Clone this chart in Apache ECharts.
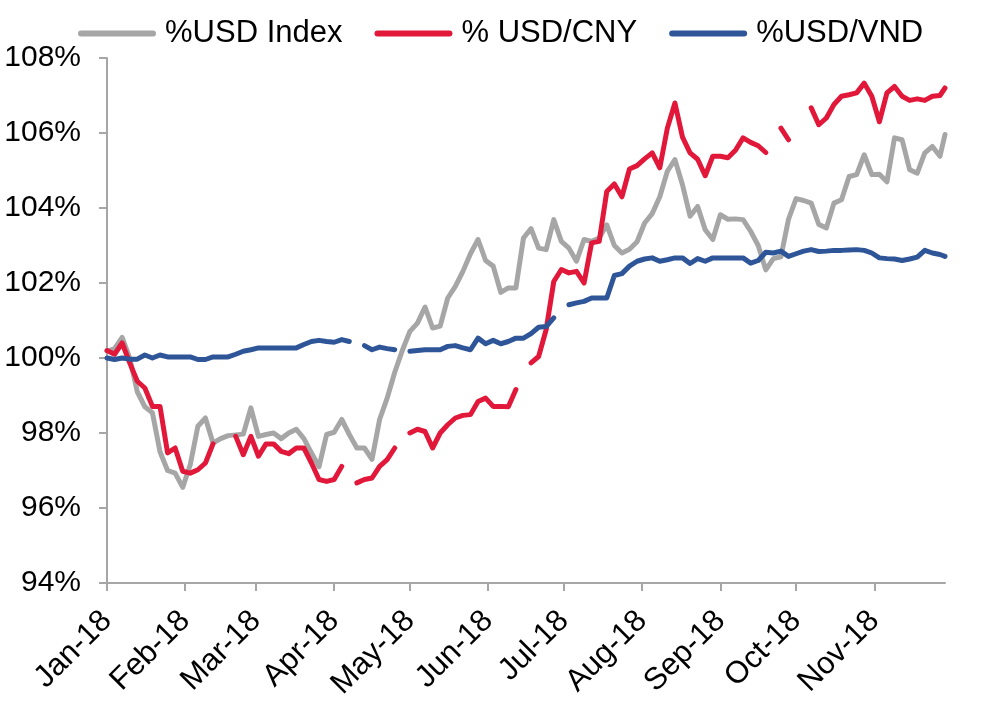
<!DOCTYPE html>
<html><head><meta charset="utf-8">
<script src="https://cdn.jsdelivr.net/npm/echarts@6/dist/echarts.min.js"></script>
<style>html,body{margin:0;padding:0;background:#fff}#c{width:982px;height:702px}</style>
</head><body><div id="c"></div>
<script>
// ---- data ----
const seriesNames = ['%USD Index', '% USD/CNY', '%USD/VND'];
const tickLabels = ['Jan-18','Feb-18','Mar-18','Apr-18','May-18','Jun-18','Jul-18','Aug-18','Sep-18','Oct-18','Nov-18'];
// sample dates: every 3 days from 1 Jan 2018, plus the last day (29 Nov 2018)
const startYear = 2018, stepDays = 3, lastOffset = 332;
const yMin = 94, yMax = 108, yStep = 2;

const usdIndex = [100.18,100.25,100.55,100.0,99.1,98.7,98.54,97.5,97.0,96.93,
  96.55,97.16,98.18,98.4,97.73,97.85,97.93,97.95,97.97,98.67,
  97.91,97.96,98.0,97.85,98.0,98.1,97.85,97.47,97.1,97.96,
  98.02,98.36,97.96,97.6,97.6,97.3,98.36,98.93,99.62,100.2,
  100.71,100.93,101.36,100.8,100.85,101.6,101.91,102.31,102.78,103.16,
  102.6,102.45,101.75,101.87,101.87,103.2,103.45,102.93,102.89,103.69,
  103.11,102.93,102.58,103.16,103.11,103.2,103.55,103.0,102.8,102.9,
  103.1,103.6,103.85,104.3,104.98,105.29,104.62,103.78,104.04,103.42,
  103.16,103.82,103.7,103.71,103.69,103.38,103.0,102.35,102.65,102.7,
  103.7,104.25,104.2,104.13,103.56,103.47,104.13,104.22,104.84,104.89,
  105.42,104.89,104.9,104.7,105.87,105.82,105.02,104.93,105.47,105.64,
  105.38,105.96];

const usdCny = [100.2,100.1,100.4,99.87,99.38,99.2,98.71,98.71,97.47,97.6,
  96.98,96.93,97.02,97.2,97.71,null,null,97.91,97.42,97.91,
  97.38,97.71,97.71,97.51,97.45,97.6,97.6,97.2,96.76,96.71,
  96.76,97.11,null,96.67,96.76,96.8,97.11,97.29,97.6,null,
  98.0,98.1,98.04,97.6,98.0,98.22,98.4,98.47,98.49,98.84,
  98.93,98.71,98.71,98.7,99.16,null,99.87,100.04,100.76,102.04,
  102.36,102.27,102.31,102.0,103.07,103.11,104.44,104.64,104.3,105.04,
  105.13,105.31,105.47,105.07,106.13,106.8,105.89,105.47,105.3,104.86,
  105.38,105.38,105.34,105.54,105.87,105.75,105.66,105.48,null,106.13,
  105.82,null,null,106.67,106.22,106.4,106.76,106.98,107.02,107.07,
  107.33,106.98,106.3,107.07,107.24,106.98,106.87,106.91,106.87,106.98,
  107.0,107.2];

const usdVnd = [100.0,99.96,100.0,99.97,99.97,100.08,100.0,100.08,100.03,100.03,
  100.03,100.03,99.96,99.96,100.03,100.03,100.03,100.1,100.18,100.22,
  100.27,100.27,100.27,100.27,100.27,100.27,100.36,100.44,100.47,100.44,
  100.42,100.49,100.44,null,100.33,100.22,100.29,100.25,100.22,null,
  100.18,100.2,100.22,100.22,100.22,100.31,100.33,100.27,100.22,100.53,
  100.38,100.47,100.38,100.44,100.53,100.53,100.65,100.82,100.84,101.07,
  null,101.42,101.47,101.51,101.6,101.6,101.6,102.2,102.25,102.45,
  102.58,102.64,102.67,102.58,102.62,102.67,102.67,102.52,102.65,102.58,
  102.67,102.67,102.67,102.67,102.67,102.53,102.6,102.82,102.8,102.85,
  102.71,102.78,102.85,102.89,102.84,102.85,102.87,102.87,102.88,102.89,
  102.87,102.8,102.67,102.65,102.64,102.6,102.64,102.69,102.87,102.8,
  102.76,102.71];

const seriesColors = ['#A6A6A6', '#E2183A', '#2E5597'];

// ---- build ----
const dayOffsets = [];
for (let d = 0; d <= lastOffset - 2; d += stepDays) dayOffsets.push(d);
dayOffsets.push(lastOffset);
const times = dayOffsets.map(d => new Date(startYear, 0, 1 + d).getTime());
const monthStarts = tickLabels.map((_, i) => new Date(startYear, i, 1).getTime());
const pair = vals => times.map((t, i) => [t, vals[i] == null ? '-' : vals[i]]);

const FONT = '"Liberation Sans", Arial, sans-serif';
const chart = echarts.init(document.getElementById('c'), null, {renderer: 'canvas'});
const mkSeries = (name, vals, color) => ({
  name, type: 'line', data: pair(vals), showSymbol: false, symbol: 'none',
  connectNulls: false, color,
  lineStyle: {color, width: 5, cap: 'round', join: 'round'},
  emphasis: {disabled: true}, animation: false
});

chart.setOption({
  animation: false,
  backgroundColor: '#fff',
  grid: {left: 107, right: 37, top: 58, bottom: 119, containLabel: false, outerBoundsMode: 'none'},
  legend: {
    left: 73, top: 13, itemGap: 32, itemWidth: 78, itemHeight: 6,
    icon: 'path://M3,0H75A3,3,0,0,1,75,6H3A3,3,0,0,1,3,0Z',
    textStyle: {fontSize: 31, color: '#000', fontFamily: FONT, lineHeight: 31, padding: [0, 0, 0, 4]},
    data: seriesNames
  },
  xAxis: {
    type: 'value',
    min: new Date(startYear, 0, 1).getTime(),
    max: new Date(startYear, 0, 1 + lastOffset).getTime(),
    axisLine: {show: true, lineStyle: {color: '#A6A6A6', width: 2}},
    axisTick: {show: true, length: 8, lineStyle: {color: '#A6A6A6', width: 2}, customValues: monthStarts},
    axisLabel: {
      customValues: monthStarts, rotate: 45, margin: 33, fontSize: 31, color: '#000', fontFamily: FONT,
      formatter: v => tickLabels[new Date(v).getMonth()]
    },
    splitLine: {show: false}, minorTick: {show: false}
  },
  yAxis: {
    type: 'value', min: yMin, max: yMax, interval: yStep,
    axisLine: {show: true, lineStyle: {color: '#A6A6A6', width: 2}},
    axisTick: {show: true, length: 8, lineStyle: {color: '#A6A6A6', width: 2}},
    axisLabel: {formatter: '{value}%', fontSize: 30, color: '#000', fontFamily: FONT, margin: 26},
    splitLine: {show: false}
  },
  series: [
    mkSeries(seriesNames[0], usdIndex, seriesColors[0]),
    mkSeries(seriesNames[1], usdCny, seriesColors[1]),
    mkSeries(seriesNames[2], usdVnd, seriesColors[2])
  ]
});
</script></body></html>
